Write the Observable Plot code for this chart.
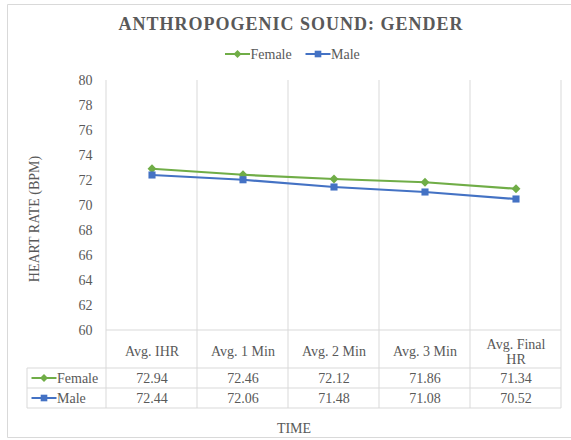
<!DOCTYPE html>
<html><head><meta charset="utf-8">
<script src="https://cdn.jsdelivr.net/npm/d3@7"></script>
<script src="https://cdn.jsdelivr.net/npm/@observablehq/plot@0.6"></script>
<style>
html,body{margin:0;padding:0;background:#fff;}
#chart{position:relative;width:571px;height:440px;}
#chart svg text{font-family:"Liberation Serif","Times New Roman",serif;}
</style></head><body><div id="chart"></div>
<script>
const categories = ["Avg. IHR", "Avg. 1 Min", "Avg. 2 Min", "Avg. 3 Min", "Avg. Final HR"];
const categoryLabels = ["Avg. IHR", "Avg. 1 Min", "Avg. 2 Min", "Avg. 3 Min", "Avg. Final\nHR"];
const female = [72.94, 72.46, 72.12, 71.86, 71.34];
const male = [72.44, 72.06, 71.48, 71.08, 70.52];
const seriesNames = ["Female", "Male"];
const seriesColors = ["#70ad47", "#4472c4"];
const seriesSymbols = ["diamond2", "square"];
const yTicks = [60, 62, 64, 66, 68, 70, 72, 74, 76, 78, 80];
const titleText = "ANTHROPOGENIC SOUND: GENDER";
const yLabelText = "HEART RATE (BPM)";
const xLabelText = "TIME";

const FONT = "'Liberation Serif', 'Times New Roman', serif";
const TXT = "#595959";
const GRID = "#d9d9d9";

const seriesValues = [female, male];
const rows = [];
seriesNames.forEach((s, si) => categories.forEach((c, ci) => rows.push({series: s, time: c, value: seriesValues[si][ci], label: seriesValues[si][ci].toFixed(2)})));
const headerRows = categories.map((c, i) => ({time: c, label: categoryLabels[i]}));

function decor(index, scales, values, dims) {
  const x = scales.x, y = scales.y;
  const bw = x.bandwidth ? x.bandwidth() : scales.scales.x.bandwidth;
  const left = x(categories[0]), right = x(categories[categories.length - 1]) + bw;
  const yTop = y(yTicks[yTicks.length - 1]), yBase = y(yTicks[0]);
  const headerH = 38, rowH = 20;
  const r1 = yBase + headerH, r2 = r1 + rowH, r3 = r2 + rowH;
  const keyLeft = 27;
  const g = d3.create("svg:g").attr("font-family", FONT).attr("fill", TXT).attr("text-anchor", "start");
  // outer chart border
  g.append("path").attr("d", `M571,4.5H7.5V437.5H571`).attr("fill", "none").attr("stroke", GRID);
  // vertical grid + table verticals
  const edges = categories.map(c => x(c)).concat([right]);
  edges.forEach(e => g.append("line").attr("x1", e).attr("x2", e).attr("y1", yTop).attr("y2", r3).attr("stroke", GRID).attr("stroke-width", 1));
  g.append("line").attr("x1", keyLeft).attr("x2", keyLeft).attr("y1", r1).attr("y2", r3).attr("stroke", GRID);
  g.append("line").attr("x1", left).attr("x2", right).attr("y1", yBase).attr("y2", yBase).attr("stroke", GRID);
  [r1, r2, r3].forEach(r => g.append("line").attr("x1", keyLeft).attr("x2", right).attr("y1", r).attr("y2", r).attr("stroke", GRID));
  // keys
  const drawKey = (cx, cy, si, half) => {
    g.append("line").attr("x1", cx - half).attr("x2", cx + half).attr("y1", cy).attr("y2", cy).attr("stroke", seriesColors[si]).attr("stroke-width", 2);
    const sym = si === 0 ? d3.symbolDiamond2 : d3.symbolSquare;
    const size = si === 0 ? 40 : 44;
    g.append("path").attr("d", d3.symbol(sym, size)()).attr("transform", `translate(${cx},${cy})`).attr("fill", seriesColors[si]);
  };
  seriesNames.forEach((s, si) => {
    const cy = (si === 0 ? r1 : r2) + rowH / 2;
    drawKey(44, cy, si, 12.5);
    g.append("text").attr("x", 57).attr("y", cy).attr("dy", "0.35em").attr("text-anchor", "start").attr("font-size", 14).text(s);
  });
  // legend
  const legendX = [237.5, 318];
  seriesNames.forEach((s, si) => {
    drawKey(legendX[si], 54, si, 12.5);
    g.append("text").attr("x", legendX[si] + 13).attr("y", 54).attr("dy", "0.35em").attr("text-anchor", "start").attr("font-size", 14).text(s);
  });
  // title
  g.append("text").attr("x", 291).attr("y", 24).attr("dy", "0.35em").attr("text-anchor", "middle")
    .attr("font-size", 18).attr("font-weight", "bold").attr("letter-spacing", "1px").text(titleText);
  // axis titles
  g.append("text").attr("transform", `translate(34,219) rotate(-90)`).attr("dy", "0.35em").attr("text-anchor", "middle").attr("font-size", 14).text(yLabelText);
  g.append("text").attr("x", 294).attr("y", 428).attr("dy", "0.35em").attr("text-anchor", "middle").attr("font-size", 14).text(xLabelText);
  return g.node();
}

const chart = Plot.plot({
  width: 571,
  height: 440,
  marginLeft: 104,
  marginRight: 8,
  marginTop: 80,
  marginBottom: 110,
  style: {fontFamily: FONT, fontSize: "14px", color: TXT, background: "#fff"},
  x: {type: "band", domain: categories, padding: 0, axis: null},
  y: {domain: [60, 80], axis: null},
  color: {domain: seriesNames, range: seriesColors},
  symbol: {domain: seriesNames, range: seriesSymbols},
  marks: [
    decor,
    Plot.axisY({ticks: yTicks, tickSize: 0, tickPadding: 12, label: null, fontSize: 14}),
    Plot.line(rows, {x: "time", y: "value", stroke: "series", z: "series", strokeWidth: 2.25}),
    Plot.dot(rows, {x: "time", y: "value", fill: "series", symbol: "series", r: 4, stroke: null}),
    Plot.text(headerRows, {x: "time", text: "label", frameAnchor: "bottom", lineAnchor: "middle", dy: 21, lineHeight: 1.08, fontSize: 14, fill: TXT}),
    Plot.text(rows, {x: "time", text: "label", frameAnchor: "bottom", lineAnchor: "middle", fontSize: 14, fill: TXT, filter: d => d.series === "Female", dy: 48}),
    Plot.text(rows, {x: "time", text: "label", frameAnchor: "bottom", lineAnchor: "middle", fontSize: 14, fill: TXT, filter: d => d.series === "Male", dy: 68})
  ]
});
document.getElementById("chart").appendChild(chart);
</script>
</body></html>
